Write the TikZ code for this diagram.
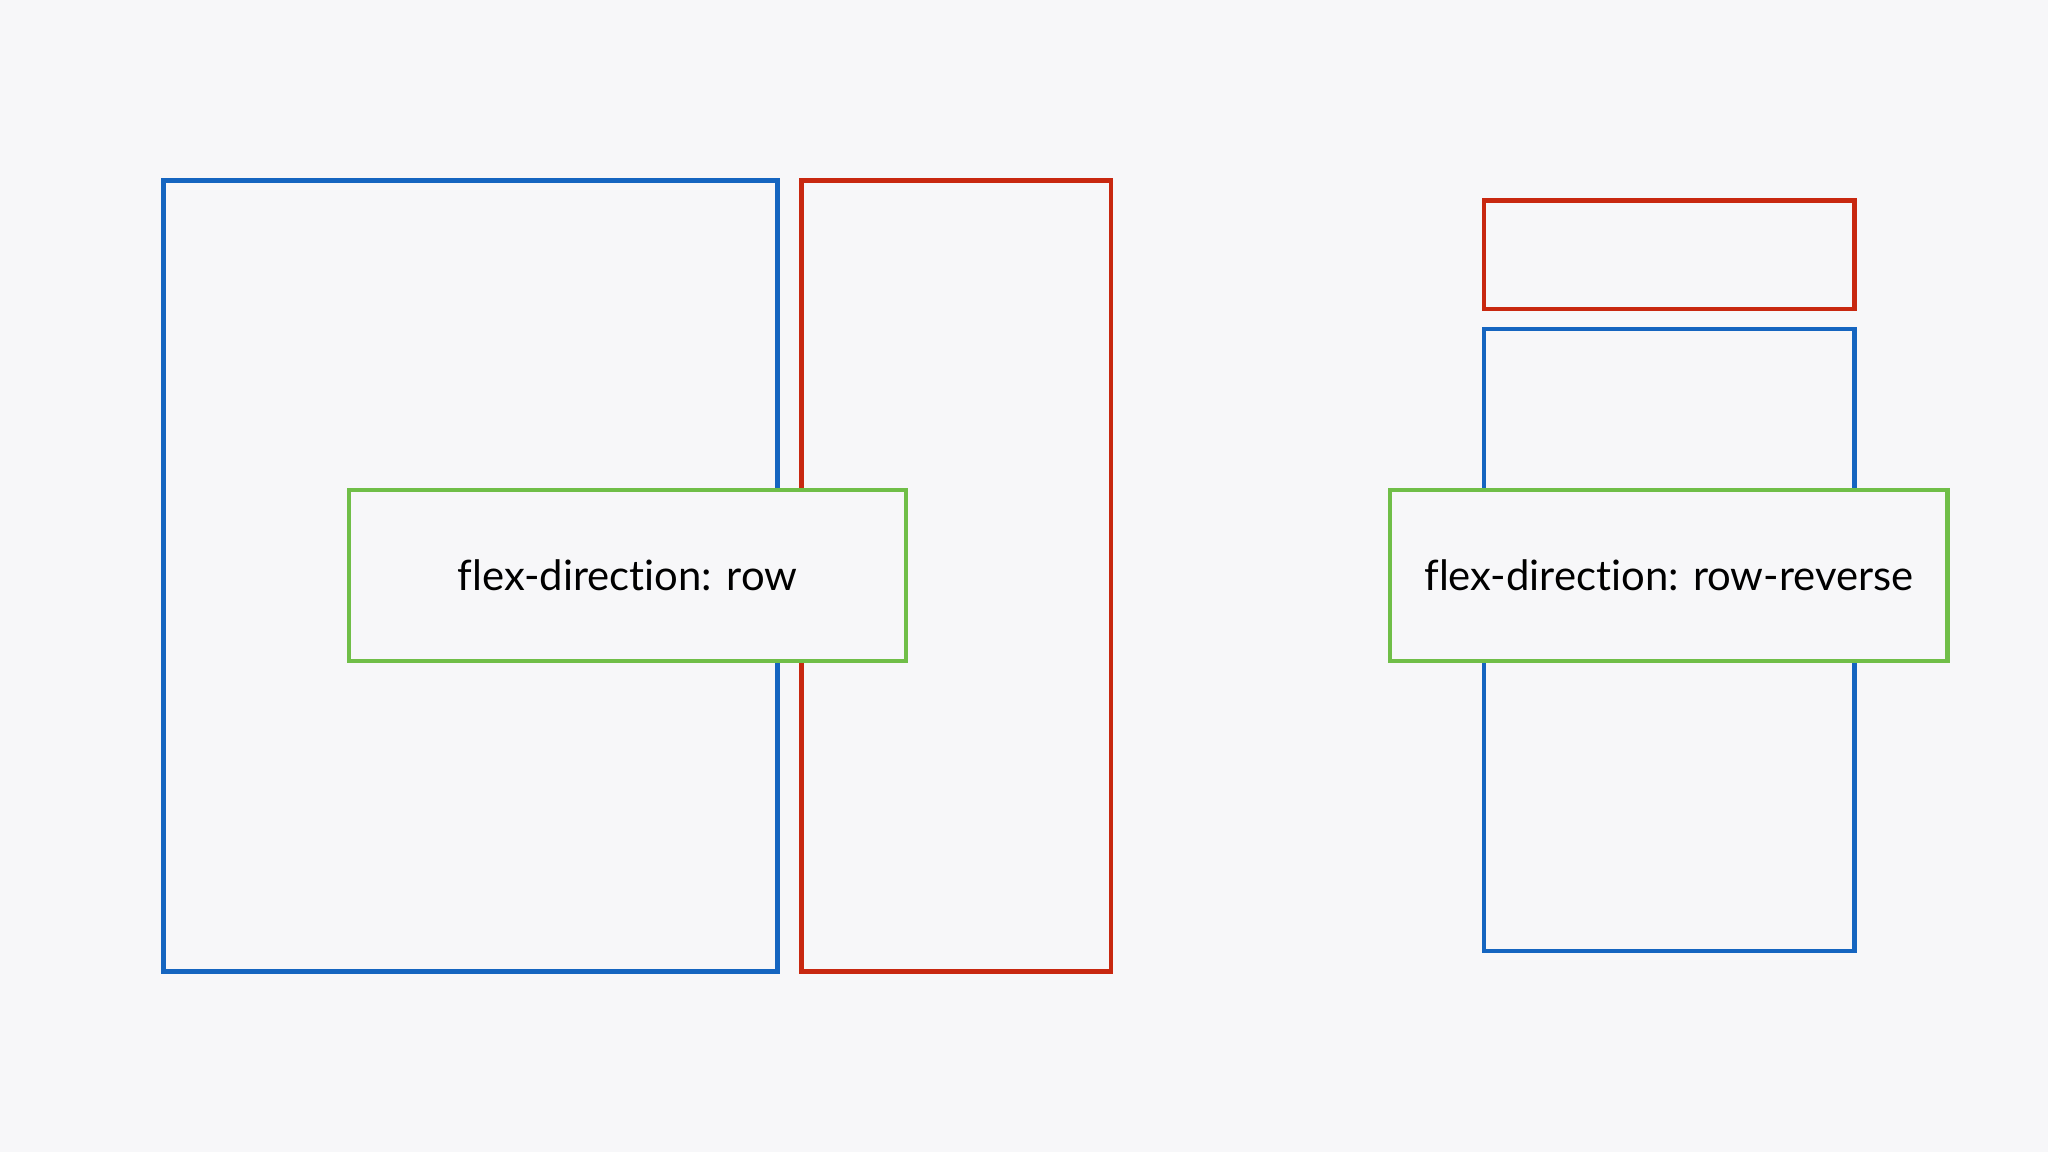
\documentclass[tikz,border=0pt]{standalone}
\usepackage{fontspec}
\setmainfont[Ligatures=NoCommon]{Lato}
\usepackage{xcolor}
\definecolor{bgcol}{RGB}{247,247,249}
\definecolor{boxblue}{RGB}{21,101,192}
\definecolor{boxred}{RGB}{200,40,16}
\definecolor{boxgreen}{RGB}{112,190,72}

\begin{document}
\begin{tikzpicture}[line width=1.15pt, label/.style={font=\fontsize{11.9}{14}\selectfont, inner sep=0pt}]
  \fill [bgcol] (0,0) rectangle (20.48,11.52);
  \useasboundingbox (0,0) rectangle (20.48,11.52);

  % row
  \draw [boxblue] (1.635,1.805) rectangle (7.775,9.715);
  \draw [boxred] (8.015,1.805) rectangle (11.11,9.715);
  \draw [boxgreen,fill=bgcol] (3.49,4.91) rectangle (9.06,6.62);
  \node [label] (rowtext) at (6.275,5.765) {flex-direction: row};

  % row-reverse
  \draw [boxred] (14.84,8.43) rectangle (18.545,9.515);
  \draw [boxblue] (14.84,2.01) rectangle (18.545,8.23);
  \draw [boxgreen,fill=bgcol] (13.90,4.91) rectangle (19.475,6.62);
  \node [label] (revtext) at (16.69,5.765) {flex-direction: row-reverse};
\end{tikzpicture}
\end{document}
